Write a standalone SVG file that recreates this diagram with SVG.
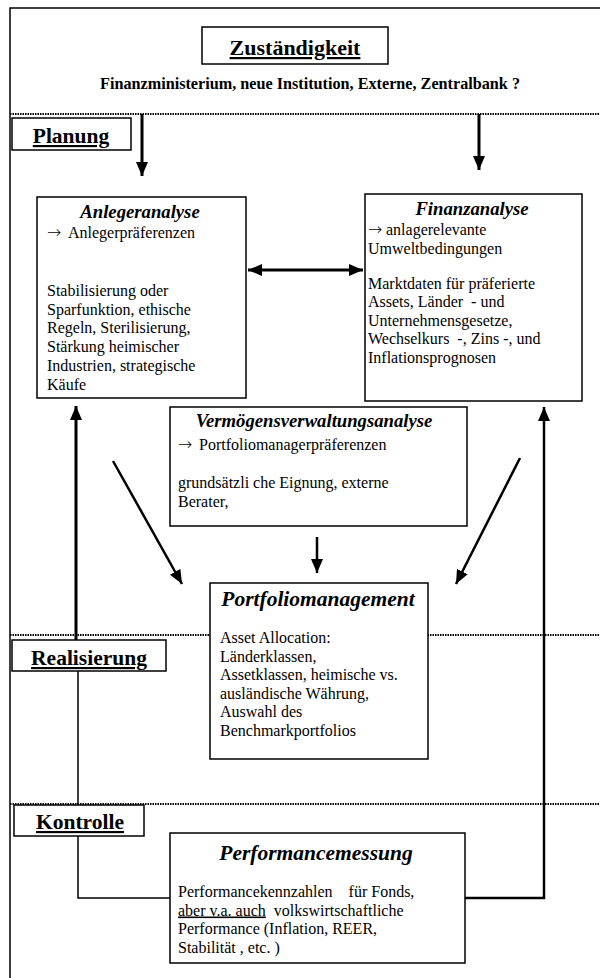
<svg xmlns="http://www.w3.org/2000/svg" width="600" height="978" viewBox="0 0 600 978">
<style>
text{font-family:"Liberation Serif","Times New Roman",serif;fill:#000}
.box{fill:#fff;stroke:#000;stroke-width:1.5}
.hd{font-size:21.5px;font-weight:bold;text-decoration:underline}
.ti{font-size:18.7px;font-weight:bold;font-style:italic}
.tb{font-size:21.5px;font-weight:bold;font-style:italic}
.b{font-size:16px}
.ar{font-family:"DejaVu Sans",sans-serif;font-size:17px;font-weight:200}
.dot{stroke:#000;stroke-width:2;stroke-dasharray:1.5 1;fill:none}
.thick{stroke:#000;stroke-width:3;fill:none}
.med{stroke:#000;stroke-width:2.5;fill:none}
.thin{stroke:#000;stroke-width:1.5;fill:none}
</style>
<defs>
<marker id="ah" viewBox="0 0 14 12" refX="14" refY="6" markerWidth="14" markerHeight="12" markerUnits="userSpaceOnUse" orient="auto-start-reverse">
<path d="M0,0 L14,6 L0,12 z" fill="#000"/>
</marker>
</defs>
<rect width="600" height="978" fill="#fff"/>
<g id="frame">
<path d="M10,978 V8 H600" class="thin"/>
<line x1="10" y1="114" x2="600" y2="114" class="dot"/>
<line x1="10" y1="635" x2="600" y2="635" class="dot"/>
<line x1="10" y1="804" x2="600" y2="804" class="dot"/>
</g>
<g id="connectors">
<line x1="142" y1="114" x2="142" y2="176" class="thick" marker-end="url(#ah)"/>
<line x1="479" y1="114" x2="479" y2="170" class="thick" marker-end="url(#ah)"/>
<line x1="248" y1="270" x2="363" y2="270" class="thick" marker-start="url(#ah)" marker-end="url(#ah)"/>
<line x1="76" y1="641" x2="76" y2="406" class="thick" marker-end="url(#ah)"/>
<line x1="113" y1="461" x2="182" y2="584" class="med" marker-end="url(#ah)"/>
<line x1="520" y1="458" x2="456" y2="584" class="med" marker-end="url(#ah)"/>
<line x1="317" y1="537" x2="317" y2="573" class="med" marker-end="url(#ah)"/>
<path d="M78,671 V805 M78,836 V898 H170" class="thin"/>
<path d="M465,898 H544 V407" class="med" marker-end="url(#ah)"/>
</g>
<g id="zustaendigkeit">
<rect x="202" y="27" width="186" height="37" class="box"/>
<text x="295" y="55" text-anchor="middle" style="font-size:22px;font-weight:bold;text-decoration:underline">Zuständigkeit</text>
<text x="310" y="89" text-anchor="middle" style="font-size:16.2px;font-weight:bold">Finanzministerium, neue Institution, Externe, Zentralbank ?</text>
</g>
<g id="planung">
<rect x="12" y="118" width="119" height="32" class="box"/>
<text x="71" y="143" text-anchor="middle" class="hd">Planung</text>
</g>
<g id="realisierung">
<rect x="12" y="640" width="154" height="31" class="box"/>
<text x="89" y="665" text-anchor="middle" class="hd">Realisierung</text>
</g>
<g id="kontrolle">
<rect x="14" y="805" width="130" height="31" class="box"/>
<text x="80" y="829" text-anchor="middle" class="hd">Kontrolle</text>
</g>
<g id="anlegeranalyse">
<rect x="37" y="197" width="209" height="201" class="box"/>
<text x="140" y="218" text-anchor="middle" class="ti">Anlegeranalyse</text>
<text y="238" class="b"><tspan x="47" class="ar">→</tspan><tspan x="68">Anlegerpräferenzen</tspan></text>
<text class="b"><tspan x="47" y="296">Stabilisierung oder</tspan><tspan x="47" y="314.7">Sparfunktion, ethische</tspan><tspan x="47" y="333.4">Regeln, Sterilisierung,</tspan><tspan x="47" y="352.1">Stärkung heimischer</tspan><tspan x="47" y="370.8">Industrien, strategische</tspan><tspan x="47" y="389.5">Käufe</tspan></text>
</g>
<g id="finanzanalyse">
<rect x="365" y="194" width="217" height="207" class="box"/>
<text x="472" y="215" text-anchor="middle" class="ti">Finanzanalyse</text>
<text y="235" class="b"><tspan x="368" class="ar">→</tspan><tspan x="386">anlagerelevante</tspan></text>
<text class="b" xml:space="preserve"><tspan x="368" y="253.5">Umweltbedingungen</tspan><tspan x="368" y="288.5">Marktdaten für präferierte</tspan><tspan x="368" y="307">Assets, Länder  - und</tspan><tspan x="368" y="325.5">Unternehmensgesetze,</tspan><tspan x="368" y="344">Wechselkurs  -, Zins -, und</tspan><tspan x="368" y="362.5">Inflationsprognosen</tspan></text>
</g>
<g id="vermoegensverwaltungsanalyse">
<rect x="170" y="407" width="297" height="119" class="box"/>
<text x="314" y="427" text-anchor="middle" class="ti">Vermögensverwaltungsanalyse</text>
<text y="450" class="b"><tspan x="178" class="ar">→</tspan><tspan x="199">Portfoliomanagerpräferenzen</tspan></text>
<text class="b"><tspan x="178" y="488">grundsätzli che Eignung, externe</tspan><tspan x="178" y="507">Berater,</tspan></text>
</g>
<g id="portfoliomanagement">
<rect x="210" y="583" width="218" height="176" class="box"/>
<text x="318" y="606" text-anchor="middle" class="tb">Portfoliomanagement</text>
<text class="b"><tspan x="220" y="643">Asset Allocation:</tspan><tspan x="220" y="661.6">Länderklassen,</tspan><tspan x="220" y="680.2">Assetklassen, heimische vs.</tspan><tspan x="220" y="698.8">ausländische Währung,</tspan><tspan x="220" y="717.4">Auswahl des</tspan><tspan x="220" y="736">Benchmarkportfolios</tspan></text>
</g>
<g id="performancemessung">
<rect x="170" y="833" width="295" height="130" class="box"/>
<text x="316" y="860" text-anchor="middle" class="tb">Performancemessung</text>
<text class="b" xml:space="preserve"><tspan x="178" y="897">Performancekennzahlen    für Fonds,</tspan><tspan x="178" y="915.5"><tspan style="text-decoration:underline">aber v.a. auch</tspan>  volkswirtschaftliche</tspan><tspan x="178" y="934">Performance (Inflation, REER,</tspan><tspan x="178" y="952.5">Stabilität , etc. )</tspan></text>
</g>
</svg>
